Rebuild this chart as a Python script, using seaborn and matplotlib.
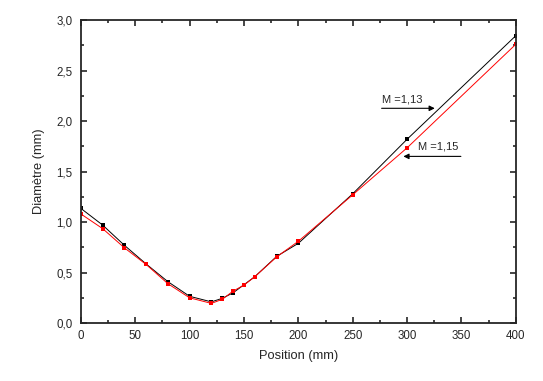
import seaborn as sns
import pandas as pd
import matplotlib.pyplot as plt
from matplotlib.ticker import FuncFormatter, MultipleLocator

position = [0, 20, 40, 60, 80, 100, 120, 130, 140, 150, 160, 180, 200, 250, 300, 400]
diam_113 = [1.135, 0.97, 0.77, 0.585, 0.41, 0.265, 0.21, 0.245, 0.30, 0.38, 0.46, 0.66, 0.79, 1.28, 1.82, 2.845]
diam_115 = [1.08, 0.935, 0.745, 0.58, 0.39, 0.25, 0.195, 0.235, 0.317, 0.376, 0.46, 0.655, 0.81, 1.27, 1.735, 2.76]

sns.set_style("ticks")
plt.rcParams["font.family"] = ["Liberation Sans", "DejaVu Sans"]

df1 = pd.DataFrame({"x": position, "y": diam_113})
df2 = pd.DataFrame({"x": position, "y": diam_115})

fig = plt.figure(figsize=(5.43, 3.81), dpi=100)
ax = fig.add_axes([0.149, 0.152, 0.801, 0.7955])

sns.lineplot(data=df1, x="x", y="y", ax=ax, color="black", lw=0.7,
             marker="s", markersize=2.8, markeredgewidth=0)
sns.lineplot(data=df2, x="x", y="y", ax=ax, color="red", lw=0.7,
             marker="s", markersize=3.2, markeredgewidth=0)

ax.set_xlim(0, 400)
ax.set_ylim(0, 3.0)
ax.xaxis.set_major_locator(MultipleLocator(50))
ax.xaxis.set_minor_locator(MultipleLocator(25))
ax.yaxis.set_major_locator(MultipleLocator(0.5))
ax.yaxis.set_minor_locator(MultipleLocator(0.25))
ax.yaxis.set_major_formatter(FuncFormatter(lambda v, p: f"{v:.1f}".replace(".", ",")))
ax.tick_params(which="both", direction="in", top=True, right=True, width=1.2, labelsize=8.3)
ax.tick_params(which="major", length=4)
ax.tick_params(which="minor", length=2.5)
ax.tick_params(axis="x", pad=5)
ax.tick_params(axis="y", pad=6)
for s in ax.spines.values():
    s.set_linewidth(1.3)

ax.set_xlabel("Position (mm)", fontsize=9.3, labelpad=6)
ax.set_ylabel("Diamètre (mm)", fontsize=9.3, labelpad=8)

ax.annotate("", xy=(328, 2.126), xytext=(274, 2.126),
            arrowprops=dict(arrowstyle="-|>", color="black", lw=0.8, mutation_scale=8))
ax.text(277, 2.21, "M =1,13", fontsize=8, va="center")
ax.annotate("", xy=(294, 1.65), xytext=(352, 1.65),
            arrowprops=dict(arrowstyle="-|>", color="black", lw=0.8, mutation_scale=8))
ax.text(310, 1.75, "M =1,15", fontsize=8, va="center")

fig.savefig("out.png", dpi=100)
